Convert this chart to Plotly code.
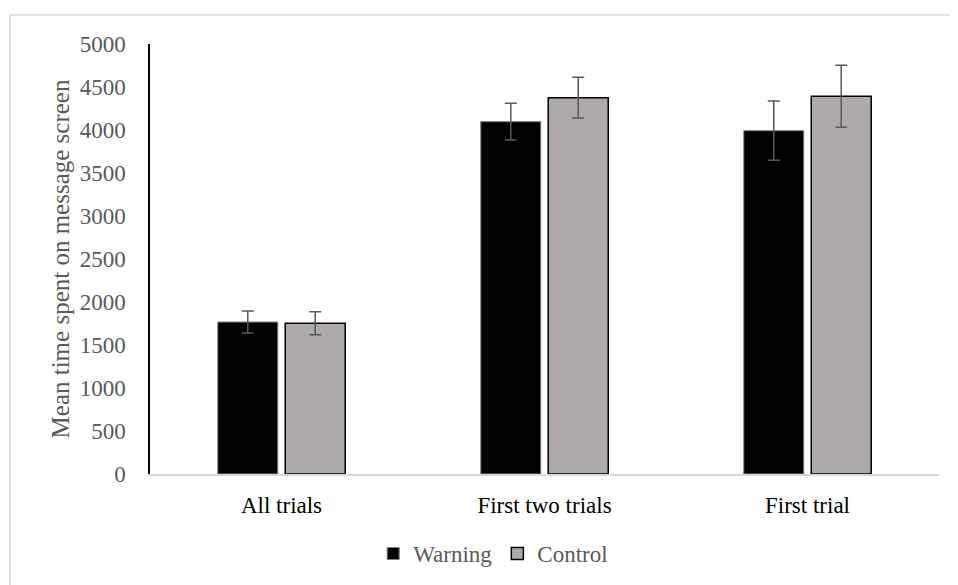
import plotly.graph_objects as go

categories = ["All trials", "First two trials", "First trial"]
warning_vals = [1767, 4097, 3992]
warning_err = [128, 213, 345]
control_vals = [1752, 4376, 4392]
control_err = [134, 236, 360]
y_ticks = [0, 500, 1000, 1500, 2000, 2500, 3000, 3500, 4000, 4500, 5000]

font_family = "Liberation Serif"

fig = go.Figure()
fig.add_trace(go.Bar(
    name="Warning", x=categories, y=warning_vals,
    marker=dict(color="#000000", line=dict(color="#7f7f7f", width=1)),
    error_y=dict(type="data", array=warning_err, color="#595959", thickness=1.5, width=6),
))
fig.add_trace(go.Bar(
    name="Control", x=categories, y=control_vals,
    marker=dict(color="#aeaaaa", line=dict(color="#000000", width=1.5)),
    error_y=dict(type="data", array=control_err, color="#595959", thickness=1.5, width=6),
))

fig.update_layout(
    width=950, height=577,
    margin=dict(l=142, r=19, t=36, b=111, autoexpand=False),
    paper_bgcolor="white", plot_bgcolor="white",
    barmode="group", bargap=0.487, bargroupgap=0.111,
    font=dict(family=font_family, size=23, color="#595959"),
    showlegend=True,
    legend=dict(orientation="h", x=0.435, xanchor="center", y=-0.185, yanchor="middle",
                font=dict(family=font_family, size=23, color="#595959"),
                itemwidth=30, traceorder="normal"),
    shapes=[dict(type="rect", xref="paper", yref="paper",
                 x0=-0.1774, x1=1.2, y0=-0.4, y1=1.0674,
                 line=dict(color="#d9d9d9", width=1.5), fillcolor="rgba(0,0,0,0)", layer="below")],
)
fig.update_xaxes(
    showline=True, linecolor="#d9d9d9", linewidth=1.5, showgrid=False,
    ticks="", tickfont=dict(color="#000000", size=23, family=font_family),
    ticklabelstandoff=10, automargin=False,
)
fig.update_yaxes(
    range=[0, 5000], tickvals=y_ticks, showgrid=False, zeroline=False,
    showline=True, linecolor="#000000", linewidth=1.5, ticks="",
    tickfont=dict(color="#595959", size=23, family=font_family),
    ticklabelstandoff=18, automargin=False,
    title=dict(text="Mean time spent on message screen",
               font=dict(size=25, color="#595959", family=font_family), standoff=3),
)

fig.write_html("out.html")
